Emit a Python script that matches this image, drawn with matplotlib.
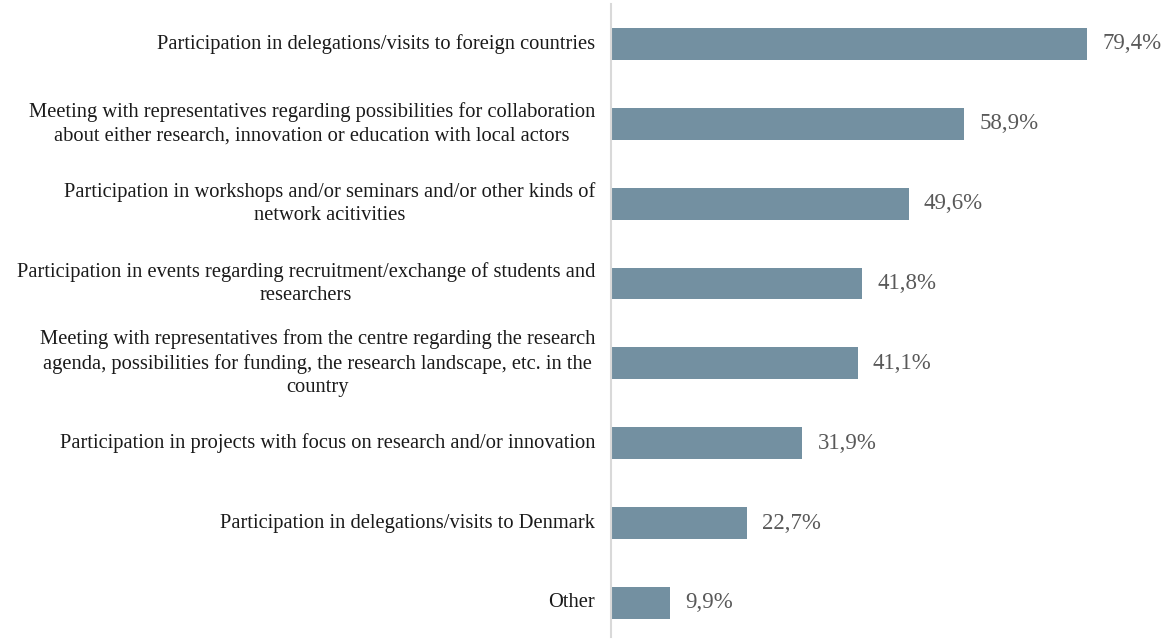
import matplotlib.pyplot as plt

categories = [
    "Participation in delegations/visits to foreign countries",
    "Meeting with representatives regarding possibilities for collaboration\nabout either research, innovation or education with local actors",
    "Participation in workshops and/or seminars and/or other kinds of\nnetwork acitivities",
    "Participation in events regarding recruitment/exchange of students and\nresearchers",
    "Meeting with representatives from the centre regarding the research\nagenda, possibilities for funding, the research landscape, etc. in the\ncountry",
    "Participation in projects with focus on research and/or innovation",
    "Participation in delegations/visits to Denmark",
    "Other",
]
values = [79.4, 58.9, 49.6, 41.8, 41.1, 31.9, 22.7, 9.9]

plt.rcParams["font.family"] = ["Liberation Serif", "DejaVu Serif"]

fig = plt.figure(figsize=(11.65, 6.41), dpi=100)
ax = fig.add_axes([611 / 1165, 4 / 641, 540 / 1165, 633 / 641])

pos = list(range(len(categories)))
ax.barh(pos, values, height=0.4, color="#7390a1", edgecolor="none")

ax.set_ylim(7.426, -0.5)
ax.set_xlim(0, 90)

for spine in ["top", "right", "bottom"]:
    ax.spines[spine].set_visible(False)
ax.spines["left"].set_color("#d9d9d9")
ax.spines["left"].set_linewidth(1.5)

ax.set_xticks([])
ax.set_yticks(pos)
ax.set_yticklabels([])
ax.tick_params(axis="y", length=0)

for p, lab in zip(pos, categories):
    ax.annotate(lab, xy=(0, p), xycoords="data", xytext=(-11.5, 0),
                textcoords="offset points", ha="right", va="center",
                multialignment="center", fontsize=14.8, color="#1a1a1a",
                linespacing=1.32)

for p, v in zip(pos, values):
    ax.annotate(f"{v:.1f}%".replace(".", ","), xy=(v, p), xytext=(11, 0),
                textcoords="offset points", ha="left", va="center",
                fontsize=16.5, color="#595959")

fig.savefig("out.png", dpi=100)
